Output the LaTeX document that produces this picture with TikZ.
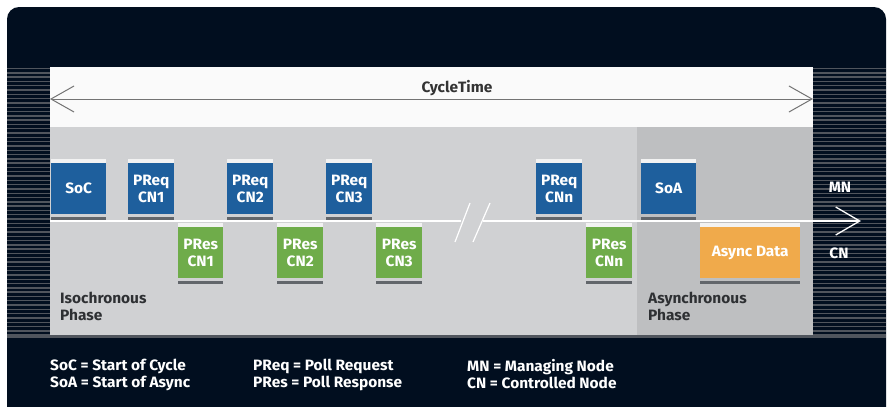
\documentclass[tikz,border=0pt]{standalone}
\usepackage{fontspec}
\setmainfont{Fira Sans}[FakeStretch=1.03]
\usetikzlibrary{arrows.meta}
\definecolor{navy}{HTML}{010E1F}
\definecolor{stripe}{HTML}{50555D}
\definecolor{isogrey}{HTML}{D0D1D3}
\definecolor{asygrey}{HTML}{BEBFC1}
\definecolor{reqblue}{HTML}{1E5F9D}
\definecolor{resgreen}{HTML}{6FAC4A}
\definecolor{asyorange}{HTML}{F0AA4B}
\definecolor{barlight}{HTML}{F2F2F2}
\definecolor{bardark}{HTML}{62666B}
\definecolor{labgrey}{HTML}{2E3033}
\tikzset{
  txt/.style={font=\fontsize{15}{17}\selectfont\bfseries},
  pkt/.style={txt, inner sep=0pt, align=center, text=white},
  phase/.style={txt, anchor=north west, align=left, text=labgrey, inner sep=0pt},
  legend/.style={txt, anchor=north west, align=left, text=white, inner sep=0pt},
  side/.style={txt, text=white, inner sep=0pt},
}
% frame: name, left x, right x, top y (of light bar), fill colour, label
\newcommand\frameblock[6]{%
  \fill[barlight] (#2,#4) rectangle (#3,#4+4);
  \node[pkt, fill=#5, minimum width=#3-#2, minimum height=51, anchor=north west]
    (#1) at (#2,#4+4) {#6};
  \fill[bardark] (#2,#4+58) rectangle (#3,#4+61);
}
\begin{document}
\begin{tikzpicture}[x=1pt,y=-1pt]
\useasboundingbox (0,0) rectangle (887,407);
% outer panel
\fill[navy, rounded corners=12] (7,7) rectangle (886,420);
\fill[navy] (7,380) rectangle (886,407);
% striped side margins
\foreach \yy in {68.5,72.8,...,336} {
  \draw[stripe, line width=1.4] (7,\yy) -- (50,\yy);
  \draw[stripe, line width=1.4] (813,\yy) -- (886,\yy);
}
% white band and phase backgrounds
\fill[white!98!black] (50,67) rectangle (813,127);
\fill[isogrey] (50,127) rectangle (637,335);
\fill[asygrey] (637,127) rectangle (813,335);
\fill[stripe] (7,335) rectangle (886,338);
% cycle time
\coordinate (cl) at (50,99);
\coordinate (cr) at (813,99);
\draw[black!55, line width=1, {Straight Barb[length=23pt,width=26pt]}-{Straight Barb[length=23pt,width=26pt]}] (cl) -- (cr);
\node[txt, inner sep=0pt, text=black!80] (ct) at (457,88) {CycleTime};
% frames on the wire
\frameblock{soc}{51}{106}{159}{reqblue}{SoC}
\frameblock{req1}{128}{174}{159}{reqblue}{PReq\\CN1}
\frameblock{req2}{227}{273}{159}{reqblue}{PReq\\CN2}
\frameblock{req3}{326}{372}{159}{reqblue}{PReq\\CN3}
\frameblock{reqn}{536}{582}{159}{reqblue}{PReq\\CNn}
\frameblock{soa}{641}{696}{159}{reqblue}{SoA}
\frameblock{res1}{178}{223}{223}{resgreen}{PRes\\CN1}
\frameblock{res2}{277}{323}{223}{resgreen}{PRes\\CN2}
\frameblock{res3}{376}{422}{223}{resgreen}{PRes\\CN3}
\frameblock{resn}{586}{632}{223}{resgreen}{PRes\\CNn}
\frameblock{async}{700}{800}{223}{asyorange}{Async Data}
% time axis with break
\coordinate (t0) at (50,221);
\coordinate (g0) at (461,221);
\coordinate (g1) at (483,221);
\coordinate (tend) at (861,221);
\draw[white, line width=1.3] (t0) -- (g0);
\draw[white, line width=1.3, -{Straight Barb[length=24pt,width=28pt]}] (g1) -- (tend);
\coordinate (s1a) at (455,242); \coordinate (s1b) at (470,203);
\coordinate (s2a) at (473,242); \coordinate (s2b) at (490,203);
\draw[white, line width=1.2] (s1a) -- (s1b);
\draw[white, line width=1.2] (s2a) -- (s2b);
\node[side] (mn) at (840,187) {MN};
\node[side] (cn) at (839,253) {CN};
% phase labels
\node[phase] (iso) at (60,292) {Isochronous\\Phase};
\node[phase] (asy) at (648,292) {Asynchronous\\Phase};
% legend
\node[legend] (lg1) at (50,359) {SoC = Start of Cycle\\SoA = Start of Async};
\node[legend] (lg2) at (253,359) {PReq = Poll Request\\PRes = Poll Response};
\node[legend] (lg3) at (467,359) {MN = Managing Node\\CN = Controlled Node};
\end{tikzpicture}
\end{document}
